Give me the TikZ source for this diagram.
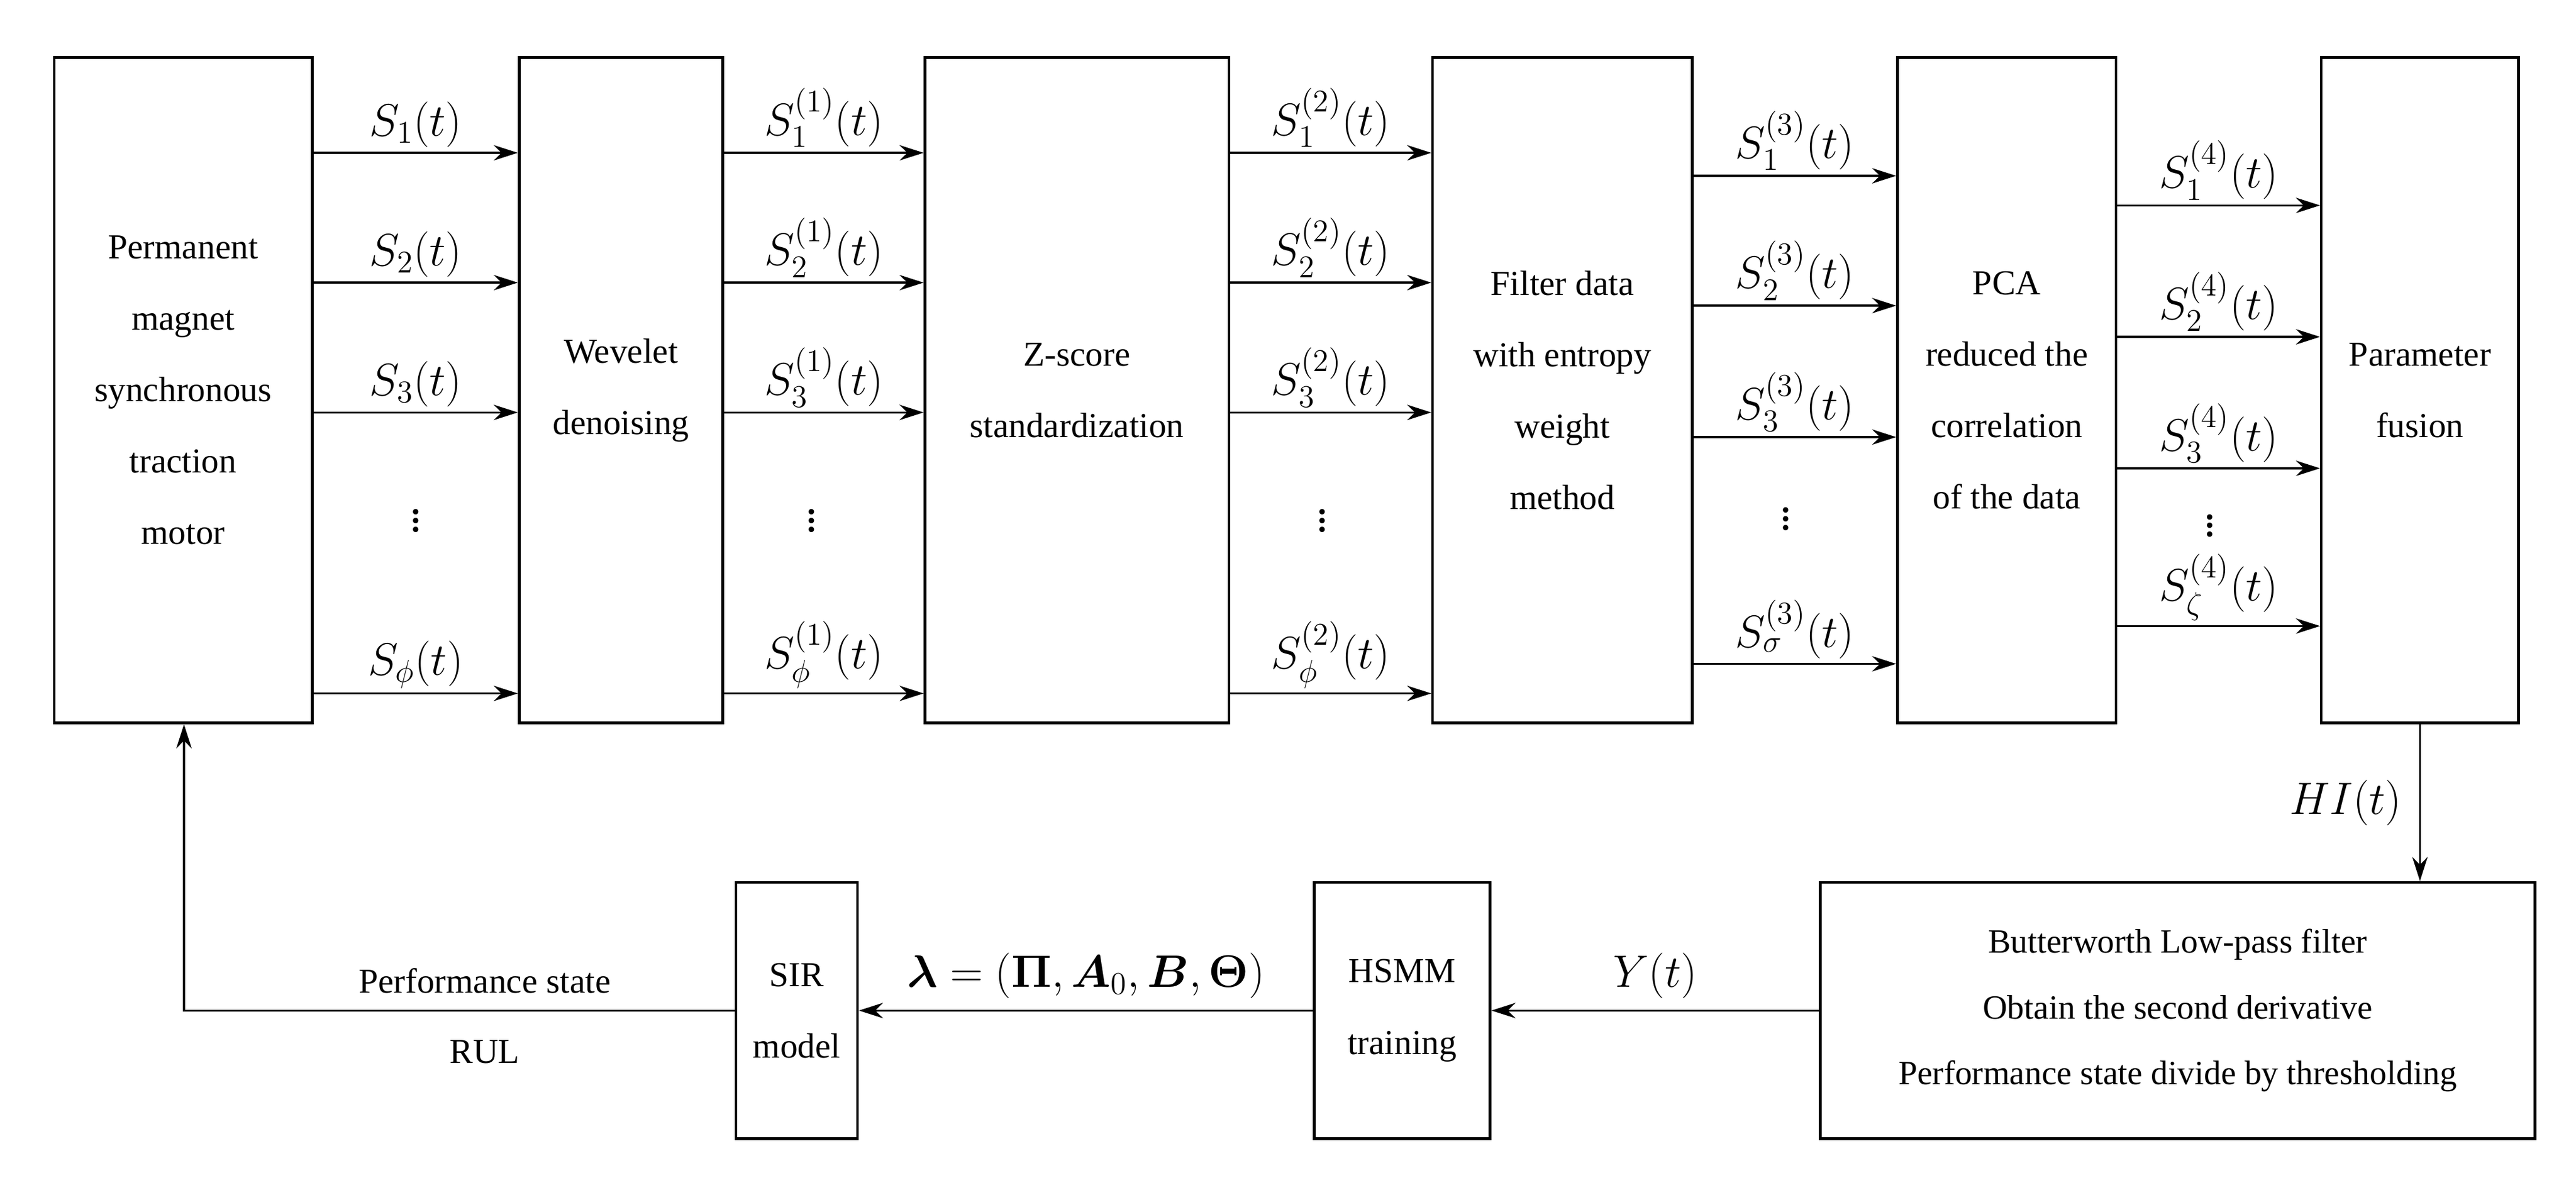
\documentclass[tikz,border=0pt]{standalone}
\usepackage{amsmath,bm}
\usepackage{fontspec}
\setmainfont{Liberation Serif}
\usetikzlibrary{arrows.meta}
\begin{document}
\begin{tikzpicture}[x=0.75pt,y=-0.75pt,
  box/.style={draw,line width=1.2pt,align=center,inner sep=0pt,font=\fontsize{16}{32.6}\selectfont},
  ar/.style={-{Stealth[length=11pt,width=7pt]},line width=0.9pt},
  lb/.style={above,inner sep=2pt,font=\fontsize{21}{22}\selectfont}]
\useasboundingbox (0,0) rectangle (1568,721);
\def\bx#1#2#3#4#5#6{\node[box,minimum width={(#4-#2)*0.75pt},minimum height={(#5-#3)*0.75pt}] (#1) at ({(#2+#4)/2},{(#3+#5)/2}) {#6};}
\bx{b1}{33}{35}{190}{440}{Permanent\\magnet\\synchronous\\traction\\motor}
\bx{b2}{316}{35}{440}{440}{Wevelet\\denoising}
\bx{b3}{563}{35}{748}{440}{Z-score\\standardization}
\bx{b4}{872}{35}{1030}{440}{Filter data\\with entropy\\weight\\method}
\bx{b5}{1155}{35}{1288}{440}{PCA\\reduced the\\correlation\\of the data}
\bx{b6}{1413}{35}{1533}{440}{Parameter\\fusion}
\node[box,minimum width={435*0.75pt},minimum height={156*0.75pt},font=\fontsize{15.5}{30}\selectfont] (b7) at (1325.5,615) {Butterworth Low-pass filter\\Obtain the second derivative\\Performance state divide by thresholding};
\bx{b8}{800}{537}{907}{693}{HSMM\\training}
\bx{b9}{448}{537}{522}{693}{SIR\\model}
\foreach \a/\b/\s in {b1/b2/,b2/b3/1,b3/b4/2}{
  \foreach \y/\i in {93/1,172/2,251/3,422/\phi}{
    \draw[ar] (\a.east |- 0,\y) -- node[lb]{$S\ifx\s\empty_{\i}\else_{\i}^{(\s)}\fi(t)$} (\b.west |- 0,\y);
  }
}
\node[font=\fontsize{21}{22}\selectfont] (d1) at (253,313) {$\vdots$};
\node[font=\fontsize{21}{22}\selectfont] (d2) at (494,313) {$\vdots$};
\node[font=\fontsize{21}{22}\selectfont] (d3) at (805,313) {$\vdots$};
\foreach \y/\i in {107/1,186/2,266/3,404/\sigma}{
  \draw[ar] (b4.east |- 0,\y) -- node[lb]{$S_{\i}^{(3)}(t)$} (b5.west |- 0,\y);}
\node[font=\fontsize{21}{22}\selectfont] (d4) at (1087,312) {$\vdots$};
\foreach \y/\i in {125/1,205/2,285/3,381/\zeta}{
  \draw[ar] (b5.east |- 0,\y) -- node[lb]{$S_{\i}^{(4)}(t)$} (b6.west |- 0,\y);}
\node[font=\fontsize{21}{22}\selectfont] (d5) at (1345,316) {$\vdots$};
\draw[ar] (b6.south -| 1473,0) -- node[left,font=\fontsize{21}{22}\selectfont,inner sep=8pt]{$HI(t)$} (b7.north -| 1473,0);
\draw[ar] (b7.west) -- node[lb,inner sep=5pt]{$Y(t)$} (b8.east);
\draw[ar] (b8.west) -- node[lb,inner sep=5pt]{$\boldsymbol{\lambda}=(\boldsymbol{\Pi},\boldsymbol{A}_0,\boldsymbol{B},\boldsymbol{\Theta})$} (b9.east);
\coordinate (c1) at (112,615);
\draw[ar] (b9.west) -- (c1) -- (b1.south -| c1);
\node[font=\fontsize{16}{20}\selectfont] (l1) at (295,597) {Performance state};
\node[font=\fontsize{16}{20}\selectfont] (l2) at (295,640) {RUL};
\end{tikzpicture}
\end{document}
